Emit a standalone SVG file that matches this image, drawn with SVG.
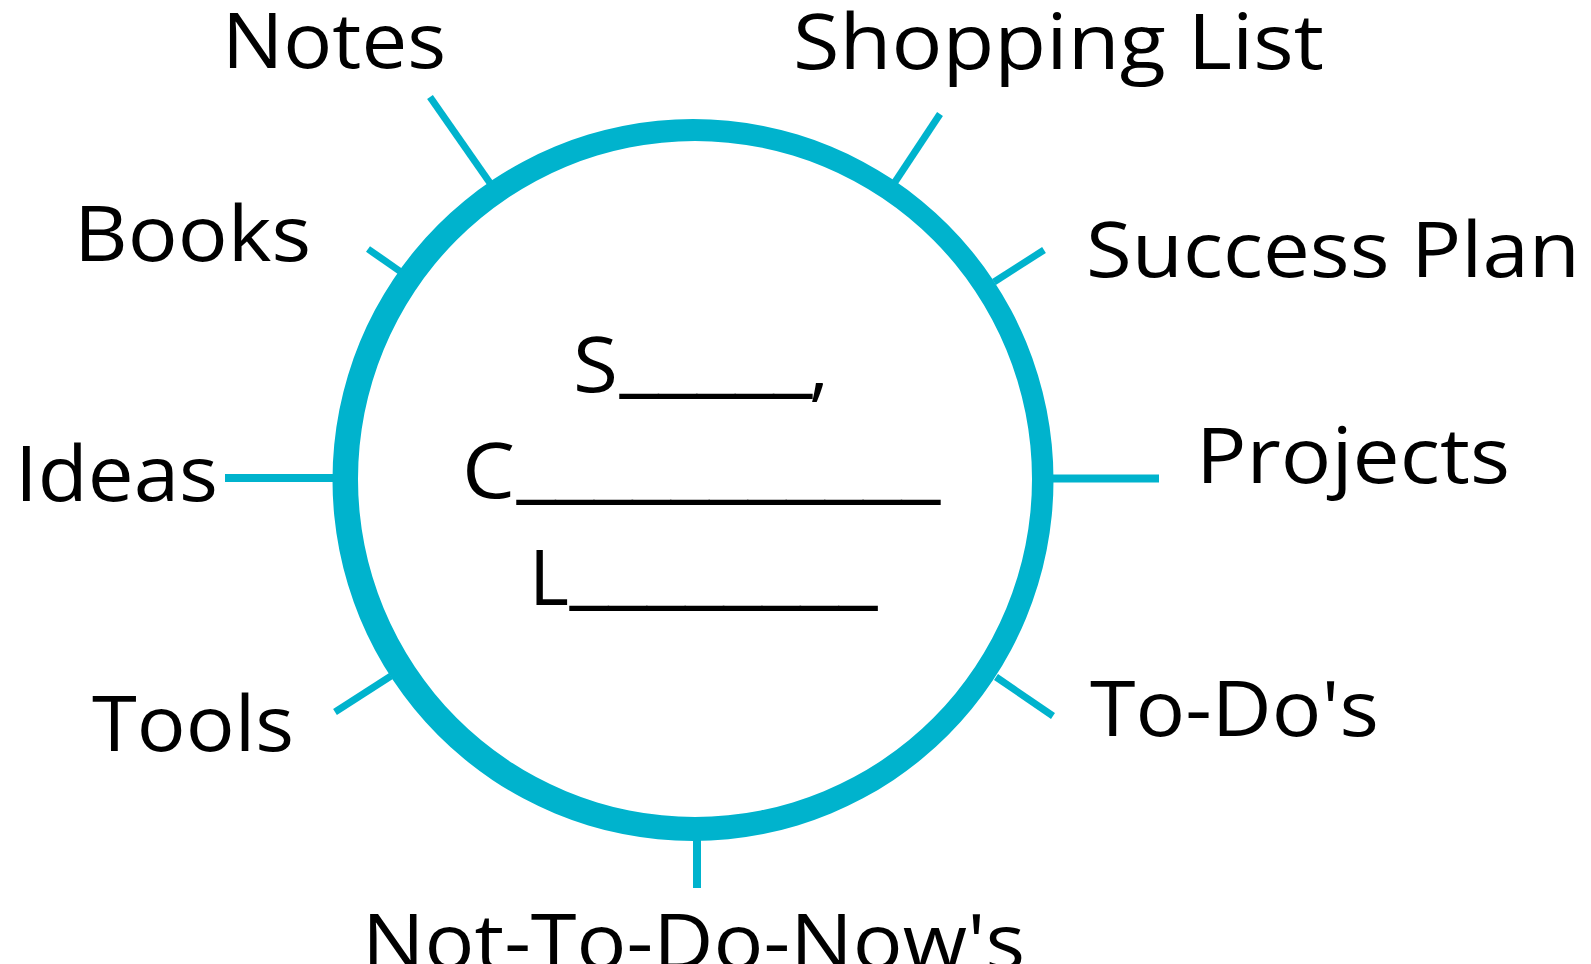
<svg xmlns="http://www.w3.org/2000/svg" width="1591" height="964" viewBox="0 0 1591 964">
<style>
.lbl{font-family:"Open Sans","Noto Sans","Liberation Sans",sans-serif;font-size:76px;fill:#000;}
.tick{stroke:#00B3CD;stroke-width:7;fill:none;}
.tickh{stroke:#00B3CD;stroke-width:8;fill:none;}
.us{font-family:"DejaVu Sans",sans-serif;}
</style>
<rect width="1591" height="964" fill="#fff"/>
<g id="connectors">
<line class="tick" x1="430" y1="97" x2="490" y2="183"/>
<line class="tick" x1="940" y1="114" x2="895" y2="182"/>
<line class="tick" x1="368" y1="249" x2="401" y2="272"/>
<line class="tick" x1="1044" y1="250" x2="994" y2="282"/>
<line class="tickh" x1="225" y1="478" x2="335" y2="478"/>
<line class="tickh" x1="1050" y1="478.5" x2="1159" y2="478.5"/>
<line class="tick" x1="335" y1="712" x2="391" y2="676"/>
<line class="tick" x1="996" y1="677" x2="1053" y2="716"/>
<line class="tickh" x1="697" y1="838" x2="697" y2="888"/>
</g>
<g id="hub">
<path fill="#00B3CD" fill-rule="evenodd" d="M332.5 480a360.5 361 0 1 0 721 0a360.5 361 0 1 0 -721 0Z M358 479a337 338 0 1 0 674 0a337 338 0 1 0 -674 0Z"/>
<text class="lbl"><tspan x="573" y="392" textLength="45" lengthAdjust="spacingAndGlyphs">S</tspan><tspan class="us" x="620" y="381" textLength="192" lengthAdjust="spacingAndGlyphs">_____</tspan><tspan x="809" y="392">,</tspan></text>
<text class="lbl"><tspan x="462" y="498" textLength="53" lengthAdjust="spacingAndGlyphs">C</tspan><tspan class="us" x="517" y="487" textLength="423" lengthAdjust="spacingAndGlyphs">___________</tspan></text>
<text class="lbl"><tspan x="529" y="605" textLength="40" lengthAdjust="spacingAndGlyphs">L</tspan><tspan class="us" x="570" y="593" textLength="307" lengthAdjust="spacingAndGlyphs">________</tspan></text>
</g>
<g id="notes"><text class="lbl" x="222" y="68" textLength="224" lengthAdjust="spacingAndGlyphs">Notes</text></g>
<g id="shopping-list"><text class="lbl" x="793" y="69" textLength="531" lengthAdjust="spacingAndGlyphs">Shopping List</text></g>
<g id="books"><text class="lbl" x="74" y="261" textLength="237" lengthAdjust="spacingAndGlyphs">Books</text></g>
<g id="success-plan"><text class="lbl" x="1086" y="277" textLength="494" lengthAdjust="spacingAndGlyphs">Success Plan</text></g>
<g id="ideas"><text class="lbl" x="15" y="501" textLength="203" lengthAdjust="spacingAndGlyphs">Ideas</text></g>
<g id="projects"><text class="lbl" x="1196" y="483" textLength="314" lengthAdjust="spacingAndGlyphs">Projects</text></g>
<g id="tools"><text class="lbl" x="92" y="751" textLength="202" lengthAdjust="spacingAndGlyphs">Tools</text></g>
<g id="todos"><text class="lbl" x="1090" y="736" textLength="289" lengthAdjust="spacingAndGlyphs">To-Do's</text></g>
<g id="not-to-do-nows"><text class="lbl" x="362" y="969" textLength="663" lengthAdjust="spacingAndGlyphs">Not-To-Do-Now's</text></g>
</svg>
